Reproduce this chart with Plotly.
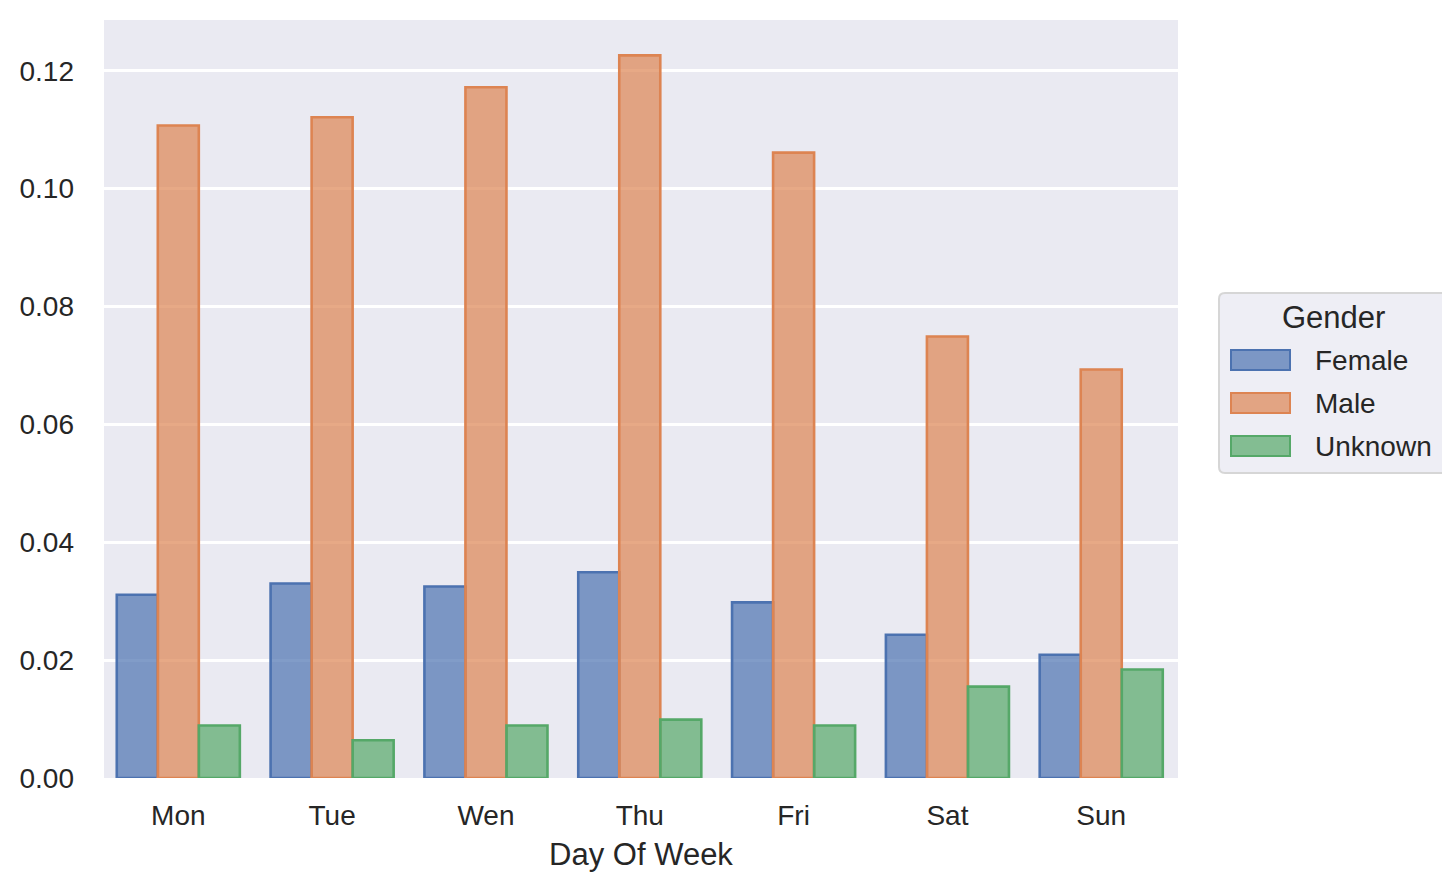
import plotly.graph_objects as go

# Data
days = ['Mon', 'Tue', 'Wen', 'Thu', 'Fri', 'Sat', 'Sun']
female = [0.0311, 0.0330, 0.0325, 0.0349, 0.0298, 0.0243, 0.0209]
male = [0.1107, 0.1121, 0.1172, 0.1226, 0.1061, 0.0749, 0.0693]
unknown = [0.0089, 0.0064, 0.0089, 0.0099, 0.0089, 0.0155, 0.0184]

genders = ['Female', 'Male', 'Unknown']
series = [female, male, unknown]
# seaborn "deep" palette
edge_colors = ['#4C72B0', '#DD8452', '#55A868']
fill_colors = ['rgba(76,114,176,0.7)', 'rgba(221,132,82,0.7)', 'rgba(85,168,104,0.7)']

FONT = 'Liberation Sans, Arial, sans-serif'
TEXT = '#262626'

# The page body has an 8px margin, so the figure is 8px smaller than the window
OFF = 8
W, H = 1450 - OFF, 890 - OFF
L, R, T, B = 104 - OFF, 272, 20 - OFF, 112
PW, PH = W - L - R, H - T - B


def px(x):
    # page pixel -> paper coordinate
    return (x - OFF - L) / PW


def py(y):
    return (H - B - (y - OFF)) / PH


fig = go.Figure()

for name, vals, ec, fc in zip(genders, series, edge_colors, fill_colors):
    fig.add_trace(go.Bar(
        x=days,
        y=vals,
        name=name,
        marker=dict(color=fc, line=dict(color=ec, width=2.6)),
        showlegend=False,
        hovertemplate=name + '<br>%{x}: %{y:.4f}<extra></extra>',
    ))

# Hand-built legend so the swatches look like matplotlib patches
shapes = []
box_x0, box_x1, box_y0, box_y1, rad = 1219, 1447, 293, 473, 6
shapes.append(dict(
    type='path', xref='paper', yref='paper',
    path=(f'M {px(box_x0 + rad)},{py(box_y0)} L {px(box_x1 - rad)},{py(box_y0)} '
          f'Q {px(box_x1)},{py(box_y0)} {px(box_x1)},{py(box_y0 + rad)} '
          f'L {px(box_x1)},{py(box_y1 - rad)} '
          f'Q {px(box_x1)},{py(box_y1)} {px(box_x1 - rad)},{py(box_y1)} '
          f'L {px(box_x0 + rad)},{py(box_y1)} '
          f'Q {px(box_x0)},{py(box_y1)} {px(box_x0)},{py(box_y1 - rad)} '
          f'L {px(box_x0)},{py(box_y0 + rad)} '
          f'Q {px(box_x0)},{py(box_y0)} {px(box_x0 + rad)},{py(box_y0)} Z'),
    fillcolor='#EEEEF5', line=dict(color='#D6D6D6', width=2),
    layer='above',
))

annotations = [dict(
    text='Gender', x=px(1333.5), y=py(317), xref='paper', yref='paper',
    xanchor='center', yanchor='middle', showarrow=False,
    font=dict(family=FONT, size=31, color=TEXT),
)]

row_y = [360, 403, 446]
for name, ec, fc, ry in zip(genders, edge_colors, fill_colors, row_y):
    shapes.append(dict(
        type='rect', xref='paper', yref='paper',
        x0=px(1231), x1=px(1290), y0=py(ry - 10), y1=py(ry + 10),
        fillcolor=fc, line=dict(color=ec, width=2), layer='above',
    ))
    annotations.append(dict(
        text=name, x=px(1313), y=py(ry), xref='paper', yref='paper',
        xanchor='left', yanchor='middle', showarrow=False,
        font=dict(family=FONT, size=28, color=TEXT),
    ))

fig.update_layout(
    width=W, height=H,
    margin=dict(l=L, r=R, t=T, b=B, pad=0),
    paper_bgcolor='white',
    plot_bgcolor='#EAEAF2',
    font=dict(family=FONT, size=28, color=TEXT),
    barmode='group',
    bargap=0.2,
    bargroupgap=0,
    shapes=shapes,
    annotations=annotations,
)

fig.update_xaxes(
    categoryorder='array', categoryarray=days,
    range=[-0.483, 6.499],
    showgrid=False, zeroline=False, showline=False, ticks='',
    ticklabelstandoff=18,
    tickfont=dict(size=28, color=TEXT),
    title=dict(text='Day Of Week', font=dict(size=31, color=TEXT), standoff=13),
)
fig.update_yaxes(
    range=[0, 0.1286],
    dtick=0.02, tick0=0, tickformat='.2f',
    showgrid=True, gridcolor='white', gridwidth=2.6,
    zeroline=False, showline=False, ticks='',
    ticklabelstandoff=29,
    tickfont=dict(size=28, color=TEXT),
)

fig.write_html('out.html')
